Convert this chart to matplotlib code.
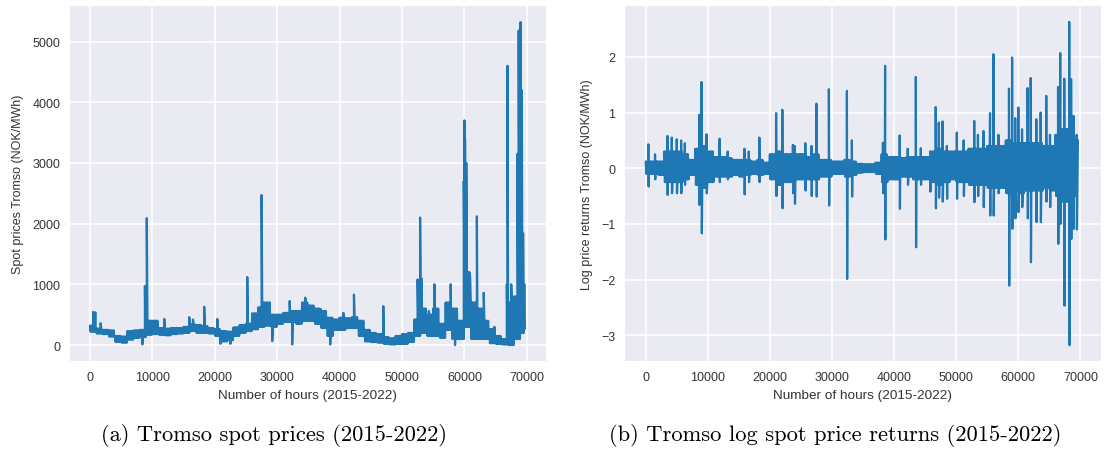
import numpy as np
import matplotlib
matplotlib.use("Agg")
import matplotlib.pyplot as plt
import seaborn as sns

# ---------------- data ----------------
# dense band of the hourly series, one (low, high) pair per 1000-hour block
price_band_low = [220, 190, 180, 140, 50, 40, 90, 120, 130, 170,
                  180, 170, 160, 180, 190, 200, 230, 200, 200, 190,
                  150, 60, 80, 150, 200, 230, 260, 300, 320, 300,
                  350, 380, 380, 350, 400, 400, 350, 280, 150, 250,
                  250, 280, 280, 150, 60, 50, 40, 20, 10, 20,
                  20, 50, 150, 200, 150, 150, 120, 250, 100, 100,
                  300, 100, 100, 100, 30, 20, 10, 0, 100, 200]
price_band_high = [320, 270, 250, 240, 150, 140, 230, 240, 250, 400,
                   400, 280, 270, 280, 280, 300, 340, 330, 310, 280,
                   260, 230, 220, 290, 330, 350, 520, 620, 700, 500,
                   500, 530, 560, 560, 700, 650, 600, 560, 450, 420,
                   450, 440, 460, 400, 250, 200, 180, 130, 110, 150,
                   180, 200, 420, 600, 500, 600, 350, 700, 600, 400,
                   1200, 700, 600, 400, 260, 150, 100, 700, 800, 1000]
# isolated spikes / dips of the price series
price_spike_hours = [500, 850, 1700, 8400, 8800, 9100, 11900, 15900, 16500, 18300,
                     20400, 20900, 22500, 25200, 27500, 27800, 29200, 32000, 32400, 34500,
                     37000, 38500, 40600, 42300, 47000, 52500, 52900, 53100, 54300, 55200,
                     57800, 58500, 59900, 60000, 60100, 60300, 60900, 62000, 63100, 64800,
                     66800, 66900, 67500, 67800, 68200, 68500, 68700, 69000, 69200, 69400,
                     69600, 69700]
price_spike_values = [545, 540, 360, 10, 970, 2090, 430, 460, 420, 630,
                      430, 20, 20, 1120, 2470, 700, 65, 725, 10, 780,
                      590, 10, 530, 830, 640, 1080, 2100, 1100, 560, 1000,
                      1000, 0, 2700, 3700, 3400, 3000, 1130, 2120, 860, 300,
                      1000, 4600, 1000, 0, 800, 3150, 5180, 5320, 4200, 1840,
                      950, 270]

ret_band_low = [-0.10, -0.10, -0.12, -0.25, -0.25, -0.25, -0.20, -0.12, -0.30, -0.35,
                -0.25, -0.15, -0.15, -0.15, -0.12, -0.15, -0.12, -0.10, -0.12, -0.10,
                -0.20, -0.30, -0.25, -0.25, -0.20, -0.20, -0.20, -0.20, -0.15, -0.15,
                -0.10, -0.10, -0.15, -0.12, -0.08, -0.07, -0.07, -0.10, -0.25, -0.20,
                -0.20, -0.15, -0.15, -0.20, -0.20, -0.20, -0.25, -0.30, -0.25, -0.20,
                -0.25, -0.25, -0.30, -0.30, -0.30, -0.35, -0.35, -0.35, -0.45, -0.40,
                -0.45, -0.40, -0.40, -0.40, -0.35, -0.40, -0.50, -0.60, -0.60, -0.50]
ret_band_high = [0.12, 0.12, 0.12, 0.30, 0.30, 0.30, 0.25, 0.15, 0.35, 0.40,
                 0.30, 0.20, 0.20, 0.18, 0.15, 0.15, 0.15, 0.12, 0.15, 0.10,
                 0.25, 0.30, 0.25, 0.25, 0.25, 0.25, 0.20, 0.25, 0.15, 0.15,
                 0.12, 0.12, 0.15, 0.12, 0.08, 0.07, 0.07, 0.10, 0.25, 0.20,
                 0.20, 0.18, 0.20, 0.20, 0.20, 0.20, 0.30, 0.35, 0.30, 0.30,
                 0.30, 0.30, 0.35, 0.35, 0.35, 0.40, 0.40, 0.40, 0.50, 0.45,
                 0.45, 0.45, 0.45, 0.45, 0.40, 0.40, 0.60, 0.70, 0.70, 0.50]
ret_spike_hours = [430, 1500, 3500, 4200, 5000, 5700, 6300, 8600, 9000, 9800,
                   11900, 13200, 15900, 16600, 18300, 21000, 22000, 23700, 24000, 25700,
                   26700, 27500, 29500, 32400, 33200, 38200, 38550, 40900, 42200, 43500,
                   44300, 45800, 46700, 47200, 47800, 48500, 50100, 51200, 52900, 53500,
                   54400, 55450, 56000, 56800, 58500, 59000, 59500, 60000, 60600, 61500,
                   62000, 62900, 63600, 64500, 65100, 66400, 66750, 67400, 68200, 68500,
                   68900, 69400]
ret_spike_high = [0.43, 0.25, 0.58, 0.55, 0.52, 0.50, 0.45, 0.96, 1.55, 0.61,
                  0.53, 0.30, 0.35, 0.30, 0.55, 0.99, 1.05, 0.42, 0.40, 0.45,
                  0.40, 1.16, 1.42, 1.39, 0.50, 0.46, 1.84, 0.59, 0.35, 1.64,
                  0.36, 0.30, 1.10, 0.82, 0.84, 0.40, 0.64, 0.50, 0.85, 0.60,
                  0.67, 0.99, 2.05, 0.60, 1.43, 1.99, 0.90, 1.09, 0.70, 1.44,
                  1.62, 0.88, 1.00, 1.30, 0.60, 1.46, 2.07, 1.61, 2.63, 1.60,
                  0.94, 0.60]
ret_spike_low = [-0.33, -0.20, -0.48, -0.45, -0.45, -0.45, -0.30, -0.66, -1.17, -0.45,
                 -0.25, -0.20, -0.47, -0.25, -0.25, -0.50, -0.72, -0.45, -0.64, -0.40,
                 -0.50, -0.51, -0.67, -1.99, -0.51, -0.45, -1.28, -0.73, -0.30, -1.42,
                 -0.30, -0.42, -0.72, -0.53, -0.60, -0.55, -0.55, -0.50, -0.61, -0.50,
                 -0.70, -0.85, -0.85, -0.45, -2.11, -1.09, -0.90, -0.79, -0.70, -0.90,
                 -1.69, -0.97, -0.97, -0.60, -0.70, -1.36, -1.00, -2.47, -3.18, -1.27,
                 -1.09, -1.10]

x_ticks = [0, 10000, 20000, 30000, 40000, 50000, 60000, 70000]
price_ticks = [0, 1000, 2000, 3000, 4000, 5000]
ret_ticks = [-3, -2, -1, 0, 1, 2]
last_hour = 69700
block = 1000
step = 100

xlabel = "Number of hours (2015-2022)"
ylabel_a = "Spot prices Tromso (NOK/MWh)"
ylabel_b = "Log price returns Tromso (NOK/MWh)"
caption_a = "(a) Tromso spot prices (2015-2022)"
caption_b = "(b) Tromso log spot price returns (2015-2022)"


def band_points(lows, highs):
    xs, ys = [], []
    for i, (lo, hi) in enumerate(zip(lows, highs)):
        for k in range(block // step):
            h = i * block + k * step
            if h >= last_hour:
                break
            xs.append(h)
            ys.append(hi if k % 2 == 0 else lo)
    return xs, ys


def price_series():
    xs, ys = band_points(price_band_low, price_band_high)
    xs = xs + list(price_spike_hours)
    ys = ys + list(price_spike_values)
    order = np.argsort(xs, kind="stable")
    return np.array(xs)[order], np.array(ys)[order]


def return_series():
    xs, ys = band_points(ret_band_low, ret_band_high)
    for h, hi, lo in zip(ret_spike_hours, ret_spike_high, ret_spike_low):
        xs += [h, h + 40]
        ys += [hi, lo]
    order = np.argsort(xs, kind="stable")
    return np.array(xs)[order], np.array(ys)[order]


sns.set_style("darkgrid")
plt.rcParams["font.family"] = ["Liberation Sans", "DejaVu Sans"]
plt.rcParams["axes.unicode_minus"] = True
plt.rcParams["path.simplify"] = False

W, H = 1106, 452
fig = plt.figure(figsize=(W / 100, H / 100), dpi=100)
ax1 = fig.add_axes([70 / W, 1 - 362.3 / H, 476 / W, 355 / H])
ax2 = fig.add_axes([625 / W, 1 - 362.3 / H, 475.7 / W, 355 / H])

line_color = "#1f77b4"
px, py = price_series()
rx, ry = return_series()
ax1.plot(px, py, color=line_color, lw=1.6)
ax2.plot(rx, ry, color=line_color, lw=1.6)

ax1.set_xlim(-3205, 73077)
ax1.set_ylim(-268, 5580)
ax2.set_xlim(-3333, 73269)
ax2.set_ylim(-3.47, 2.91)

for ax, yt, yl in ((ax1, price_ticks, ylabel_a), (ax2, ret_ticks, ylabel_b)):
    ax.set_facecolor("#EAEAF2")
    ax.set_xticks(x_ticks)
    ax.set_yticks(yt)
    ax.grid(True, color="white", lw=1.1)
    for s in ax.spines.values():
        s.set_visible(False)
    ax.tick_params(axis="both", length=0, pad=7, labelsize=9, labelcolor="#333333")
    ax.set_xlabel(xlabel, fontsize=9.7, color="#333333", labelpad=4)
    ax.set_ylabel(yl, fontsize=9, color="#333333", labelpad=6)

cap_font = ["cmr10", "DejaVu Serif"]
fig.text(274 / W, 1 - 436 / H, caption_a, ha="center", va="center",
         family=cap_font, fontsize=16.2, color="black")
fig.text(835 / W, 1 - 436 / H, caption_b, ha="center", va="center",
         family=cap_font, fontsize=16.2, color="black")

fig.savefig("out.png", dpi=100, facecolor="white")
